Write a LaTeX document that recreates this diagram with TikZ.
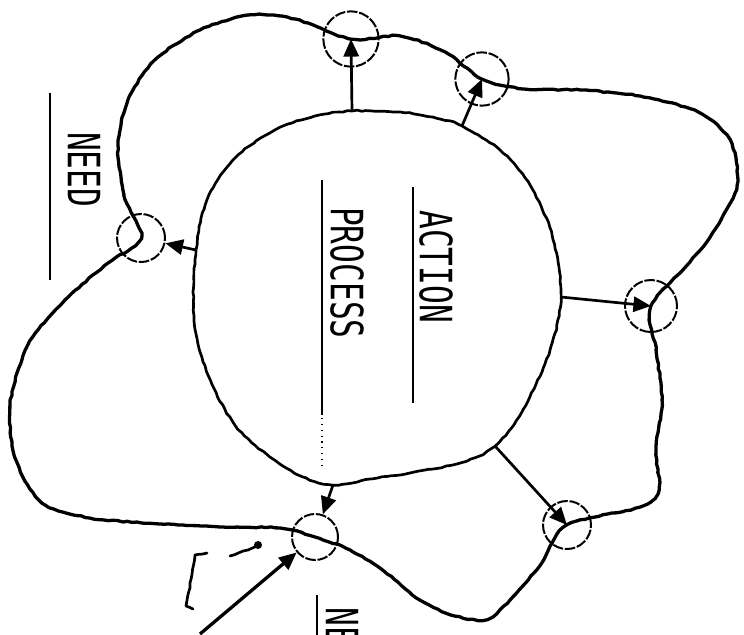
\documentclass[tikz,border=0pt]{standalone}
\usepackage{fontspec}
\usepackage{graphicx}
\newfontfamily\typewriter{DejaVu Sans Mono}
\usetikzlibrary{arrows.meta, decorations.pathmorphing}

\begin{document}
\begin{tikzpicture}[
    x=0.03cm, y=-0.03cm,
    sketch/.style={line width=2.3pt, line cap=round, line join=round, decorate, decoration={random steps, segment length=4pt, amplitude=0.5pt}},
    loop_line/.style={sketch, line width=2.8pt},
    junction/.style={circle, draw, line width=1.7pt, inner sep=0pt, dash pattern=on 9pt off 1.5pt},
    flow/.style={-{Triangle[length=15pt, width=13pt]}, line width=2.3pt},
    label_text/.style={font=\typewriter\fontsize{38}{40}\selectfont, rotate=-90, anchor=west, inner sep=0pt},
    underline/.style={line width=2.4pt}
]
    \useasboundingbox (0,0) rectangle (744,635);

    % Junctions on the outer loop
    \node[junction, minimum size=1.66cm] (t1) at (351,39) {};
    \node[junction, minimum size=1.6cm] (t2) at (482,79) {};
    \node[junction, minimum size=1.56cm] (rn) at (651,306) {};
    \node[junction, minimum size=1.44cm] (br) at (567,525) {};
    \node[junction, minimum size=1.38cm] (bl) at (315,537) {};
    \node[junction, minimum size=1.44cm] (ln) at (141,238) {};

    % Action process (big blob)
    \coordinate (c_top) at (352,111);
    \coordinate (c_ne) at (462,126);
    \coordinate (c_east) at (561,297);
    \coordinate (c_se) at (495,446);
    \coordinate (c_south) at (333,485);
    \coordinate (c_west) at (196,250);
    \draw[sketch] plot[smooth cycle, tension=0.55] coordinates {
        (315,116) (c_top) (400,112) (440,119) (c_ne) (500,150) (530,185) (552,235)
        (c_east) (550,350) (524,408) (c_se) (460,463) (410,473) (370,479) (c_south)
        (303,477) (270,457) (235,425) (208,375) (194,320) (c_west) (207,200) (235,158) (275,130)};

    \node[label_text] (action) at (436,210) {\scalebox{0.7}[1]{ACTION}};
    \node[label_text] (process) at (347,207) {\scalebox{0.7}[1]{PROCESS}};
    \draw[underline] (413,187) -- (413,403);
    \draw[underline] (322,180) -- (322,415);
    \draw[underline, dash pattern=on 1pt off 4pt, line width=1.4pt] (322,418) -- (322,470);

    % Outer loop through the junctions
    \draw[loop_line] plot[smooth cycle, tension=0.5] coordinates {
        (ln.center) (124,195) (118,145) (128,100) (155,60) (200,30) (250,15) (295,19)
        (t1.center) (400,36) (445,52) (t2.center) (525,89) (580,90) (640,96) (698,112)
        (730,140) (737,185) (716,228) (690,262) (rn.center) (656,350) (662,400) (656,450)
        (659,490) (640,507) (br.center) (540,565) (510,600) (487,619) (455,616) (420,600)
        (385,572) (350,550) (bl.center) (280,528) (220,527) (160,524) (90,518) (42,503)
        (16,460) (10,405) (28,345) (65,300) (108,263)};

    % Arrows from the process to the junctions
    \draw[flow] (c_top) -- (t1.center);
    \draw[flow] (c_ne) -- (t2.center);
    \draw[flow] (c_east) -- (rn.center);
    \draw[flow] (c_se) -- (br.center);
    \draw[flow] (c_south) -- (bl);
    \draw[flow] (c_west) -- (ln);

    % Need
    \node[label_text] (need) at (84,132) {\scalebox{0.7}[1]{NEED}};
    \draw[underline] (50,93) -- (50,280);
    \node[label_text] (need2) at (342,607) {\scalebox{0.7}[1]{NE}};
    \draw[underline] (317,595) -- (317,640);

    % Feed into the lower junction
    \coordinate (feed) at (200,634);
    \draw[flow, line width=2.8pt] (feed) -- (bl);
    \draw[sketch] (230,556) .. controls (240,552) and (250,550) .. (256,546);
    \fill (258,545) circle (4);
    \draw[sketch] (207,553) -- (195,555) .. controls (192,575) .. (186,606) -- (193,609);
\end{tikzpicture}
\end{document}
